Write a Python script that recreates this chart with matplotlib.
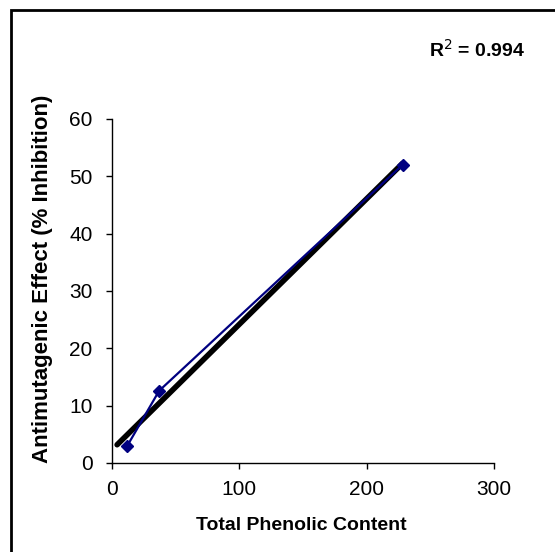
import numpy as np
import matplotlib
matplotlib.use("Agg")
import matplotlib.pyplot as plt
from matplotlib.patches import Rectangle

plt.rcParams['font.family'] = ['Liberation Sans', 'DejaVu Sans']

phenolic = [12, 37, 228]
inhibition = [3.0, 12.6, 52.0]
x_ticks = [0, 100, 200, 300]
y_ticks = [0, 10, 20, 30, 40, 50, 60]
r2_text = "R$^{2}$ = 0.994"

W, H = 555, 552
fig = plt.figure(figsize=(W/100, H/100), dpi=100)
ax = fig.add_axes([112/W, 1-463/H, (494.3-112)/W, (463-119)/H])

slope, intercept = np.polyfit(phenolic, inhibition, 1)
tx = np.array([4, max(phenolic)])
ax.plot(tx, slope*tx + intercept, color='black', lw=4, solid_capstyle='round', zorder=2)
ax.plot(phenolic, inhibition, color='#000080', lw=1.6, marker='D', ms=6.5,
        markerfacecolor='#000080', markeredgecolor='#000080', zorder=3)

ax.set_xlim(0, 300)
ax.set_ylim(0, 60)
ax.set_xticks(x_ticks)
ax.set_yticks(y_ticks)
ax.tick_params(axis='both', direction='out', length=4, width=1, labelsize=15)
ax.tick_params(axis='x', pad=8)
ax.tick_params(axis='y', pad=10)
for s in ['top', 'right']:
    ax.spines[s].set_visible(False)
for s in ['left', 'bottom']:
    ax.spines[s].set_linewidth(1)
    ax.spines[s].set_color('black')
for lbl in ax.get_xticklabels() + ax.get_yticklabels():
    lbl.set_color('black')

fig.text(301/W, 1-525/H, 'Total Phenolic Content', ha='center', va='center',
         fontsize=14, fontweight='bold')
fig.text(43/W, 1-279/H, 'Antimutagenic Effect (% Inhibition)', ha='center', va='center',
         rotation=90, fontsize=16, fontweight='bold')
fig.text(477/W, 1-50/H, r2_text, ha='center', va='center', fontsize=14, fontweight='bold')

fig.add_artist(Rectangle((11/W, -0.05), 1.2, 1-10/H+0.05, transform=fig.transFigure,
                         fill=False, edgecolor='black', lw=2))

fig.savefig('out.png', dpi=100)
